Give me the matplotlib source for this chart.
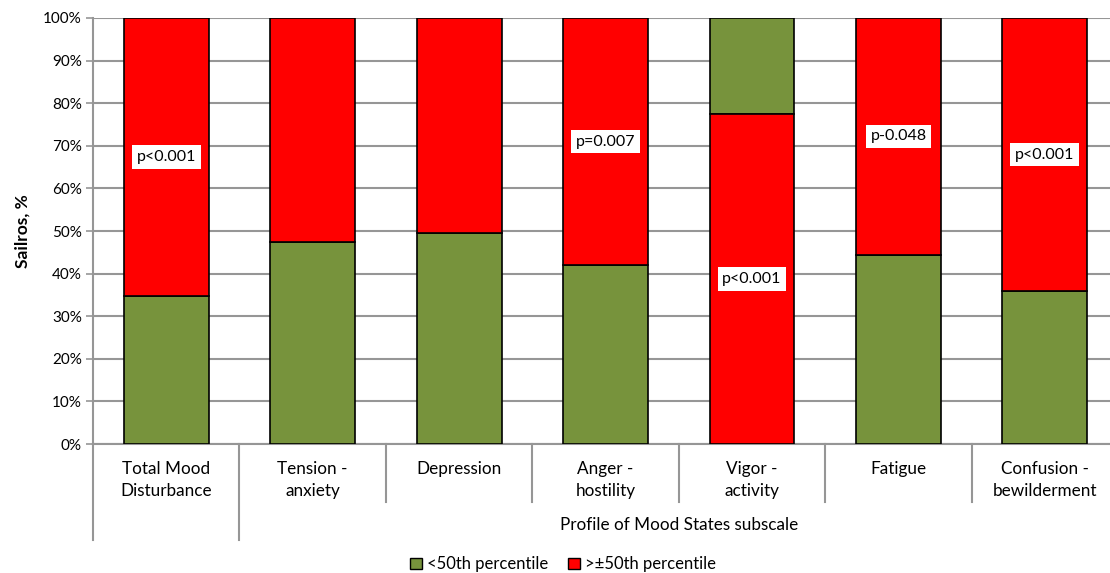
import matplotlib.pyplot as plt
from matplotlib.patches import Patch
import numpy as np

categories = ['Total Mood\nDisturbance', 'Tension -\nanxiety', 'Depression',
              'Anger -\nhostility', 'Vigor -\nactivity', 'Fatigue',
              'Confusion -\nbewilderment']
below50 = [34.7, 47.4, 49.5, 42.0, 22.5, 44.4, 35.9]
above50 = [65.3, 52.6, 50.5, 58.0, 77.5, 55.6, 64.1]
red_first = [False, False, False, False, True, False, False]  # Vigor is stacked the other way
p_labels = ['p<0.001', '', '', 'p=0.007', 'p<0.001', 'p-0.048', 'p<0.001']

green = '#77933C'
red = '#FF0000'
grid_col = '#969696'

plt.rcParams['font.family'] = ['Lato', 'DejaVu Sans']

fig = plt.figure(figsize=(11.1, 5.73), dpi=100)
ax = fig.add_axes([0.0838, 0.2251, 0.9235, 0.7435])

ind = np.arange(len(categories))
width = 0.58
green_bottom = [a if r else 0 for a, r in zip(above50, red_first)]
red_bottom = [0 if r else b for b, r in zip(below50, red_first)]

ax.bar(ind, below50, width, bottom=green_bottom, color=green, edgecolor='black', linewidth=1.2, zorder=3)
ax.bar(ind, above50, width, bottom=red_bottom, color=red, edgecolor='black', linewidth=1.2, zorder=3)

# p-value tags sit in the middle of the red segment
for i, lab in enumerate(p_labels):
    if lab:
        ax.text(i, red_bottom[i] + above50[i] / 2, lab, ha='center', va='center', fontsize=11.5,
                color='black', zorder=4,
                bbox=dict(facecolor='white', edgecolor='none', boxstyle='square,pad=0.3'))

ax.set_xlim(-0.5, len(categories) - 0.5)
ax.set_ylim(0, 100)
ax.set_yticks(np.arange(0, 101, 10))
ax.set_yticklabels([f'{v}%' for v in range(0, 101, 10)], fontsize=11)
ax.yaxis.grid(True, color=grid_col, linewidth=1.5, zorder=0)
ax.set_xticks([])
ax.tick_params(axis='y', length=5, color=grid_col, width=1.2, pad=3)
for s in ['top', 'right']:
    ax.spines[s].set_visible(False)
for s in ['left', 'bottom']:
    ax.spines[s].set_color(grid_col)
    ax.spines[s].set_linewidth(1.5)

ax.set_ylabel('Sailros, %', fontsize=12.5, fontweight='bold', labelpad=9)

# category labels and divider lines under the axis
trans = ax.get_xaxis_transform()
for i, cat in enumerate(categories):
    ax.text(i, -0.04, cat, ha='center', va='top', fontsize=12.3, transform=trans, linespacing=1.42)
for i in range(len(categories)):
    low = -0.225 if i < 2 else -0.136
    ax.plot([i - 0.5, i - 0.5], [0, low], color=grid_col, linewidth=1.5, transform=trans, clip_on=False)
ax.text(3.5, -0.19, 'Profile of Mood States subscale', ha='center', va='center', fontsize=12.3, transform=trans)

handles = [Patch(facecolor=green, edgecolor='black', label='<50th percentile'),
           Patch(facecolor=red, edgecolor='black', label='>\u00b150th percentile')]
fig.legend(handles=handles, loc='center', bbox_to_anchor=(0.507, 0.015), ncol=2, frameon=False,
           fontsize=12, handlelength=0.7, handleheight=0.7, handletextpad=0.3, columnspacing=1.2)

plt.savefig('out.png', dpi=100)
